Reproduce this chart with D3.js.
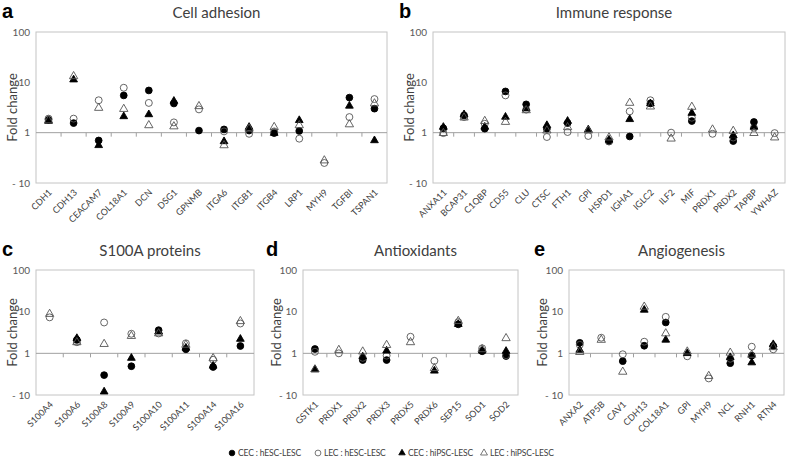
<!DOCTYPE html>
<html>
<head>
<meta charset="utf-8">
<script src="https://cdn.jsdelivr.net/npm/d3@7"></script>
<style>
body { margin: 0; background: #fff; }
text { font-family: Lato, "Open Sans", sans-serif; }
</style>
</head>
<body>
<div id="chart"></div>
<script>
// ---- data (fold change; values below 1 sit under the "1" line, 0.1 == "-10") ----
const catA = ["CDH1","CDH13","CEACAM7","COL18A1","DCN","DSG1","GPNMB","ITGA6","ITGB1","ITGB4","LRP1","MYH9","TGFBI","TSPAN1"];
const a_cecH = [1.8, 1.55, 0.70, 5.5, 6.9, 3.8, 1.1, 1.16, 1.1, 0.98, 1.08, null, 4.97, 3.0];
const a_lecH = [1.9, 1.9, 4.4, 7.8, 3.9, 1.6, 2.9, 1.06, 0.95, 1.06, 0.76, 0.25, 2.04, 4.65];
const a_cecI = [1.7, 11.3, 0.56, 2.1, 2.3, 4.25, null, 0.67, 1.29, 0.98, 1.76, null, 3.4, 0.70];
const a_lecI = [1.75, 13.2, 3.1, 2.95, 1.4, 1.33, 3.35, 0.56, 1.2, 1.29, 1.4, 0.28, 1.46, 3.8];

const catB = ["ANXA11","BCAP31","C1QBP","CD55","CLU","CTSC","FTH1","GPI","HSPD1","IGHA1","IGLC2","ILF2","MIF","PRDX1","PRDX2","TAPBP","YWHAZ"];
const b_cecH = [1.22, 2.2, 1.2, 6.6, 3.65, 1.2, 1.55, null, 0.67, 0.84, 3.8, null, 1.7, null, 0.68, 1.63, null];
const b_lecH = [0.98, 2.05, 1.5, 5.5, 2.87, 0.82, 1.03, 0.86, 0.67, 2.65, 4.4, 1.0, 1.98, 0.95, 0.8, 1.25, 0.98];
const b_cecI = [1.29, 2.3, 1.3, 2.05, 3.0, 1.4, 1.7, 1.15, 0.72, 1.84, 3.8, null, 2.45, null, 0.88, 1.3, null];
const b_lecI = [0.98, 1.99, 1.7, 1.63, 2.78, 1.1, 1.28, 1.1, 0.8, 3.9, 3.3, 0.76, 3.25, 1.15, 1.08, 0.98, 0.8];

const catC = ["S100A4","S100A6","S100A8","S100A9","S100A10","S100A11","S100A14","S100A16"];
const c_cecH = [null, 2.1, 0.30, 0.49, 3.6, 1.25, 0.47, 1.5];
const c_lecH = [7.3, 1.85, 5.5, 2.95, 3.0, 1.74, 0.7, 5.2];
const c_cecI = [null, 2.3, 0.12, 0.77, 3.3, 1.35, 0.5, 2.2];
const c_lecI = [8.8, 1.84, 1.67, 2.6, 3.0, 1.6, 0.76, 5.9];

const catD = ["GSTK1","PRDX1","PRDX2","PRDX3","PRDX5","PRDX6","SEP15","SOD1","SOD2"];
const d_cecH = [1.27, null, 0.69, 0.69, null, null, 4.96, 1.12, 0.86];
const d_lecH = [1.09, 1.0, 0.78, 0.88, 2.5, 0.66, 5.6, 1.32, 0.9];
const d_cecI = [0.41, null, 0.83, 1.15, null, 0.38, 5.0, 1.15, 1.13];
const d_lecI = [0.41, 1.2, 1.1, 1.58, 1.84, 0.44, 5.95, 1.25, 2.3];

const catE = ["ANXA2","ATP5B","CAV1","CDH13","COL18A1","GPI","MYH9","NCL","RNH1","RTN4"];
const e_cecH = [1.79, null, 0.65, 1.52, 5.5, null, null, 0.58, 0.88, 1.5];
const e_lecH = [1.6, 2.37, 0.95, 1.9, 7.5, 0.85, 0.25, 0.74, 1.44, 1.25];
const e_cecI = [1.2, null, null, 11.0, 2.1, 1.0, null, 0.8, 0.6, 1.64];
const e_lecI = [1.07, 2.1, 0.36, 13.1, 3.0, 1.1, 0.285, 1.03, 0.92, 1.4];

const yTicks = [0.1, 1, 10, 100];
const yTickLabels = ["- 10", "1", "10", "100"];
const seriesNames = ["CEC : hESC-LESC", "LEC : hESC-LESC", "CEC : hiPSC-LESC", "LEC : hiPSC-LESC"];

// ---- layout ----
const W = 787, H = 461;
const panels = [
  {letter: "a", title: "Cell adhesion", cats: catA, series: [a_cecH, a_lecH, a_cecI, a_lecI],
   left: 36, right: 387, top: 32, bottom: 183, lx: 2, ylabX: 12},
  {letter: "b", title: "Immune response", cats: catB, series: [b_cecH, b_lecH, b_cecI, b_lecI],
   left: 433, right: 785, top: 32, bottom: 183, lx: 399, ylabX: 409},
  {letter: "c", title: "S100A proteins", cats: catC, series: [c_cecH, c_lecH, c_cecI, c_lecI],
   left: 36, right: 254, top: 270, bottom: 395, lx: 2, ylabX: 12},
  {letter: "d", title: "Antioxidants", cats: catD, series: [d_cecH, d_lecH, d_cecI, d_lecI],
   left: 303, right: 518, top: 270, bottom: 395, lx: 266, ylabX: 276},
  {letter: "e", title: "Angiogenesis", cats: catE, series: [e_cecH, e_lecH, e_cecI, e_lecI],
   left: 569, right: 784, top: 270, bottom: 395, lx: 534, ylabX: 542}
];

const styles = [
  {type: d3.symbolCircle, size: 36, fill: "#000", stroke: "#000"},
  {type: d3.symbolCircle, size: 38, fill: "none", stroke: "#555"},
  {type: d3.symbolTriangle, size: 26, fill: "#000", stroke: "#000"},
  {type: d3.symbolTriangle, size: 30, fill: "none", stroke: "#555"}
];

const svg = d3.select("#chart").append("svg")
  .attr("width", W).attr("height", H)
  .attr("viewBox", [0, 0, W, H]);

function drawPanel(p) {
  const g = svg.append("g");
  const x = d3.scaleBand(p.cats, [p.left, p.right]);
  const y = d3.scaleLog([0.1, 100], [p.bottom, p.top]);

  // frame
  g.append("rect")
    .attr("x", p.left).attr("y", p.top)
    .attr("width", p.right - p.left).attr("height", p.bottom - p.top)
    .attr("fill", "none").attr("stroke", "#c4c4c4").attr("stroke-width", 1);

  // y labels
  const yAxis = d3.axisLeft(y).tickValues(yTicks)
    .tickFormat(d => yTickLabels[yTicks.indexOf(d)])
    .tickSize(0).tickPadding(6);
  g.append("g").attr("transform", `translate(${p.left},0)`).call(yAxis)
    .call(s => s.select(".domain").remove())
    .call(s => s.selectAll("text").attr("fill", "#595959").attr("font-size", 10));

  // baseline at fold change 1 with category ticks
  const y1 = y(1);
  g.append("line")
    .attr("x1", p.left).attr("x2", p.right).attr("y1", y1).attr("y2", y1)
    .attr("stroke", "#a0a0a0");
  g.selectAll(".ctick").data(p.cats.slice(1)).join("line")
    .attr("x1", d => x(d)).attr("x2", d => x(d))
    .attr("y1", y1).attr("y2", y1 + 4)
    .attr("stroke", "#a0a0a0");

  // category labels
  const xAxis = d3.axisBottom(x).tickSize(0).tickPadding(0);
  g.append("g").attr("transform", `translate(0,${p.bottom})`).call(xAxis)
    .call(s => s.select(".domain").remove())
    .call(s => s.selectAll("text")
      .attr("fill", "#404040").attr("font-size", 9)
      .attr("text-anchor", "end").attr("dy", 0)
      .attr("transform", "translate(4,10) rotate(-45)"));

  // markers
  p.series.forEach((vals, si) => {
    const st = styles[si];
    const pts = p.cats.map((c, i) => ({c, v: vals[i]})).filter(d => d.v != null);
    g.selectAll(null).data(pts).join("path")
      .attr("transform", d => `translate(${x(d.c) + x.bandwidth() / 2},${y(d.v)})`)
      .attr("d", d3.symbol(st.type, st.size))
      .attr("fill", st.fill).attr("stroke", st.stroke).attr("stroke-width", 0.9);
  });

  // title, letter, y title
  g.append("text").attr("x", (p.left + p.right) / 2 + 5).attr("y", p.top - 14)
    .attr("text-anchor", "middle").attr("font-size", 15).attr("fill", "#404040")
    .text(p.title);
  g.append("text").attr("x", p.lx).attr("y", p.top - 14)
    .style("font-family", "'Liberation Sans', Arial, sans-serif")
    .attr("font-weight", "bold").attr("font-size", 20).attr("fill", "#000")
    .text(p.letter);
  g.append("text")
    .attr("transform", `translate(${p.ylabX},${(p.top + p.bottom) / 2}) rotate(-90)`)
    .attr("text-anchor", "middle").attr("dy", "0.35em")
    .attr("font-size", 13).attr("fill", "#404040")
    .text("Fold change");
}

panels.forEach(drawPanel);

// legend
const legend = svg.append("g").attr("transform", "translate(0,453)");
const legX = [232, 318, 402, 484];
seriesNames.forEach((name, i) => {
  const st = styles[i];
  legend.append("path")
    .attr("transform", `translate(${legX[i]},0)`)
    .attr("d", d3.symbol(st.type, st.size * 0.7))
    .attr("fill", st.fill).attr("stroke", st.stroke).attr("stroke-width", 0.8);
  legend.append("text").attr("x", legX[i] + 6).attr("dy", "0.35em")
    .attr("font-size", 8.5).attr("letter-spacing", -0.15)
    .attr("fill", "#404040").text(name);
});
</script>
</body>
</html>
